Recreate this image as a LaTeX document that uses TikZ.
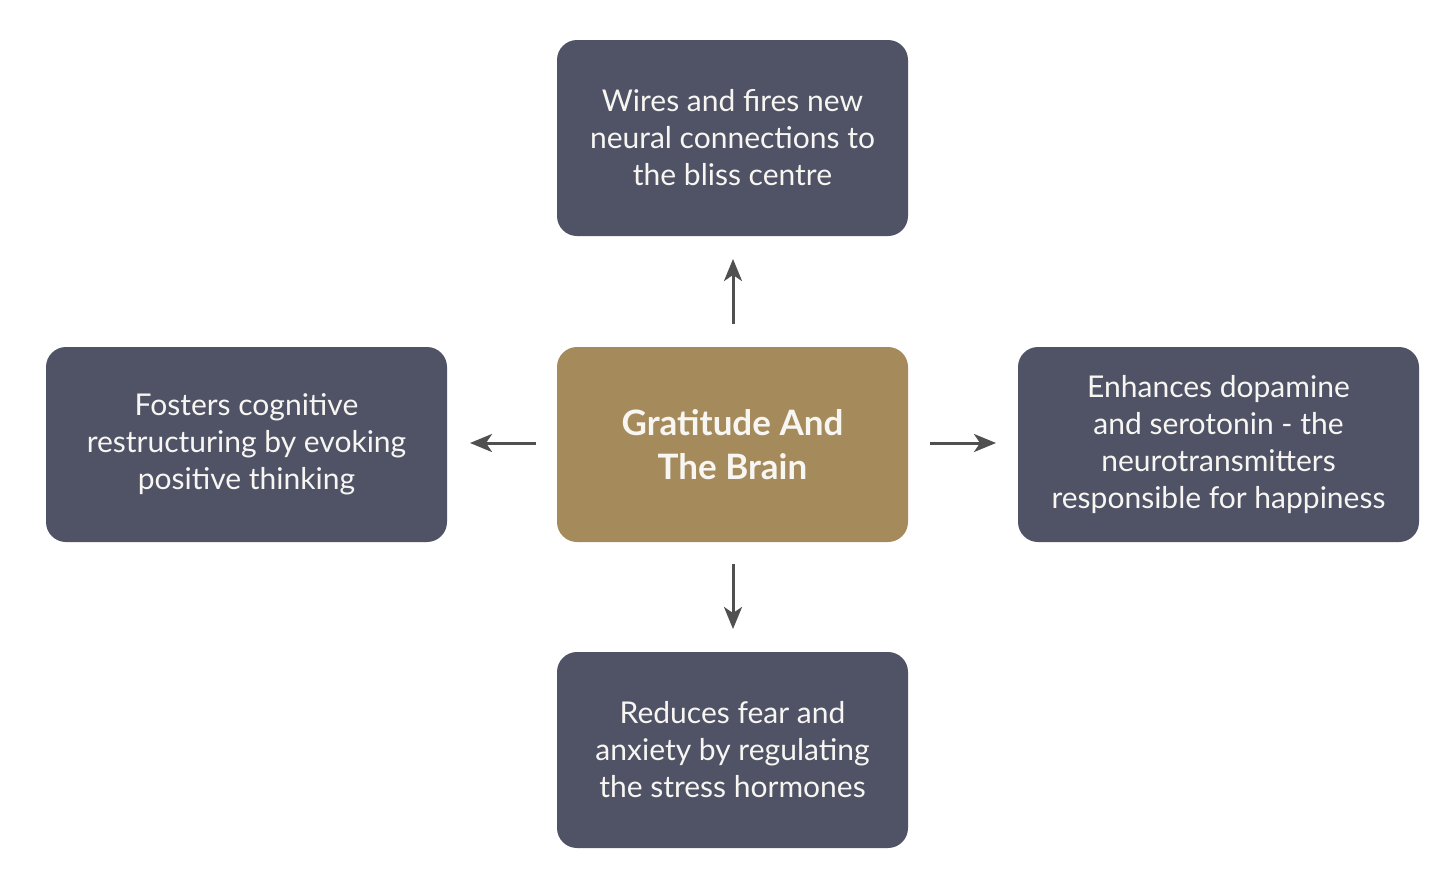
\documentclass[tikz,border=0pt]{standalone}
\usepackage{fontspec}
\setmainfont{Lato}
\usetikzlibrary{arrows.meta}
\definecolor{slate}{HTML}{4F5365}
\definecolor{gold}{HTML}{A58A5C}
\definecolor{arrowgray}{HTML}{505050}
\definecolor{offwhite}{HTML}{F7F6F2}
\tikzset{
  box/.style={rounded corners=10pt, fill=slate, text=offwhite, align=center, inner sep=0pt,
    font=\fontsize{15}{18.5}\selectfont},
  centerbox/.style={box, fill=gold, font=\fontsize{17.5}{22}\selectfont\bfseries},
  arr/.style={draw=arrowgray, line width=1.5pt, -{Stealth[length=11pt,width=9pt,inset=3pt]}}
}
\begin{document}
\begin{tikzpicture}[x=0.5pt,y=-0.5pt]
\useasboundingbox (0,0) rectangle (1456,878);
\node[box, minimum width=175.5pt, minimum height=98pt] (top) at (732.5,138) {Wires and fires new\\neural connections to\\the bliss centre};
\node[centerbox, minimum width=175.5pt, minimum height=97.5pt] (mid) at (732.5,444.5) {Gratitude And\\The Brain};
\node[box, minimum width=200.5pt, minimum height=97.5pt] (left) at (246.5,444.5) {Fosters cognitive\\restructuring by evoking\\positive thinking};
\node[box, minimum width=200.5pt, minimum height=97.5pt] (right) at (1218.5,444.5) {Enhances dopamine\\and serotonin - the\\neurotransmitters\\responsible for happiness};
\node[box, minimum width=175.5pt, minimum height=98pt] (bot) at (732.5,750) {Reduces fear and\\anxiety by regulating\\the stress hormones};
\coordinate (tA) at (733,324); \coordinate (tB) at (733,259);
\coordinate (lA) at (536,443); \coordinate (lB) at (470,443);
\coordinate (rA) at (930,443); \coordinate (rB) at (996,443);
\coordinate (bA) at (733,564); \coordinate (bB) at (733,629);
\draw[arr] (tA) -- (tB);
\draw[arr] (lA) -- (lB);
\draw[arr] (rA) -- (rB);
\draw[arr] (bA) -- (bB);
\end{tikzpicture}
\end{document}
